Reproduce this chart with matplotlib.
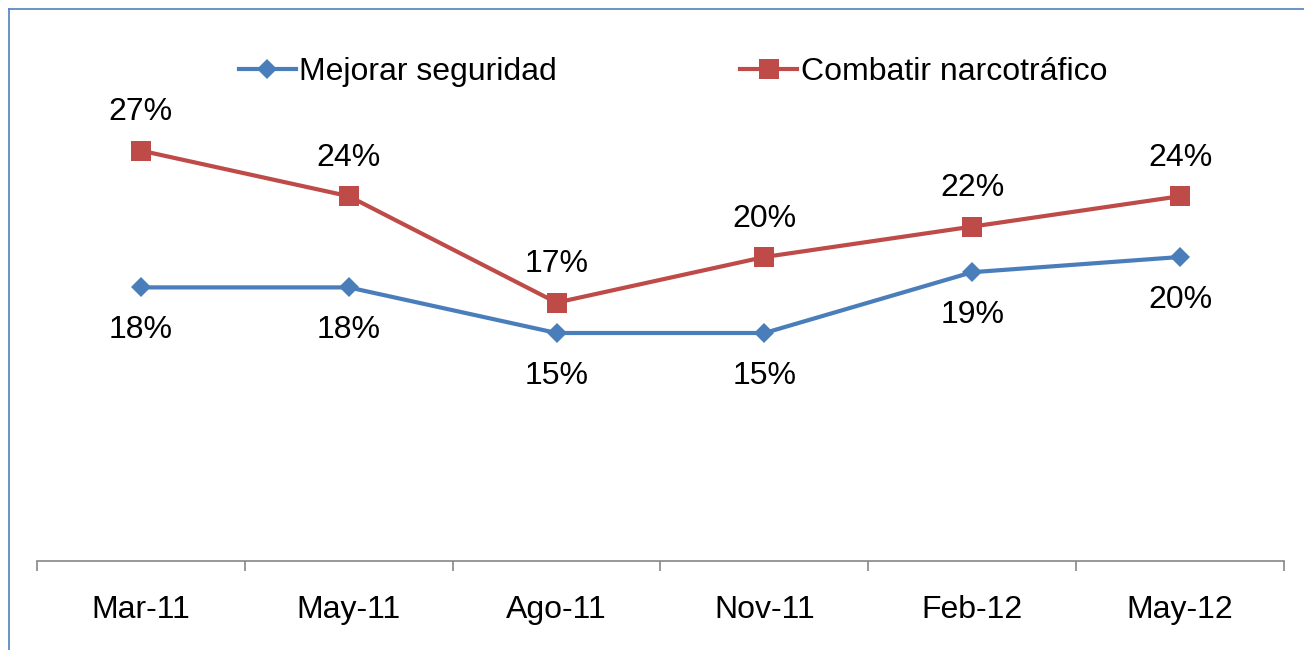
import matplotlib
matplotlib.use("Agg")
import matplotlib.pyplot as plt
from matplotlib.lines import Line2D

categories = ["Mar-11", "May-11", "Ago-11", "Nov-11", "Feb-12", "May-12"]
mejorar = [18, 18, 15, 15, 19, 20]
combatir = [27, 24, 17, 20, 22, 24]
series_names = ["Mejorar seguridad", "Combatir narcotráfico"]

plt.rcParams['font.family'] = ['Liberation Sans', 'DejaVu Sans']
W, H = 1304, 650
fig = plt.figure(figsize=(W/100, H/100), dpi=100)

# outer frame (only top and left visible)
fig.add_artist(Line2D([9/W, 9/W], [0, 1 - 9/H], color='#4f81bd', lw=1.2, transform=fig.transFigure))
fig.add_artist(Line2D([9/W, 1], [1 - 9/H, 1 - 9/H], color='#4f81bd', lw=1.2, transform=fig.transFigure))

left, right = 37/W, 1284/W
bottom, top = 1 - 561/H, 1 - 105/H
ax = fig.add_axes([left, bottom, right - left, top - bottom])

blue = '#4a7ebb'
red = '#be4b48'
FS = 23
x = list(range(len(categories)))
ax.plot(x, mejorar, color=blue, lw=3, marker='D', ms=10.5, markeredgewidth=0, label=series_names[0])
ax.plot(x, combatir, color=red, lw=3, marker='s', ms=15, markeredgewidth=0, label=series_names[1])

for xi, v in zip(x, mejorar):
    ax.annotate(f"{v}%", (xi, v), xytext=(0, -31), textcoords='offset points',
                ha='center', va='center', fontsize=FS, color='black')
for xi, v in zip(x, combatir):
    ax.annotate(f"{v}%", (xi, v), xytext=(0, 27.5), textcoords='offset points',
                ha='center', va='center', fontsize=FS, color='black')

ax.set_xlim(-0.5, len(categories) - 0.5)
ax.set_ylim(0, 30)
for s in ['top', 'right', 'left']:
    ax.spines[s].set_visible(False)
ax.spines['bottom'].set_color('#868686')
ax.spines['bottom'].set_linewidth(1.2)
ax.set_yticks([])
ax.set_xticks([i - 0.5 for i in range(len(categories) + 1)], minor=False)
ax.set_xticklabels([])
ax.tick_params(axis='x', which='major', length=7, width=1.2, color='#868686', direction='out')
ax.set_xticks(x, minor=True)
ax.set_xticklabels(categories, minor=True, fontsize=FS)
ax.tick_params(axis='x', which='minor', length=0, pad=24.5)

leg = fig.legend(loc='center', bbox_to_anchor=(673/W, 1 - 72/H), ncol=2, frameon=False,
                 fontsize=FS, handlelength=1.78, columnspacing=5.75, handletextpad=0.1)

fig.savefig("out.png", dpi=100)
